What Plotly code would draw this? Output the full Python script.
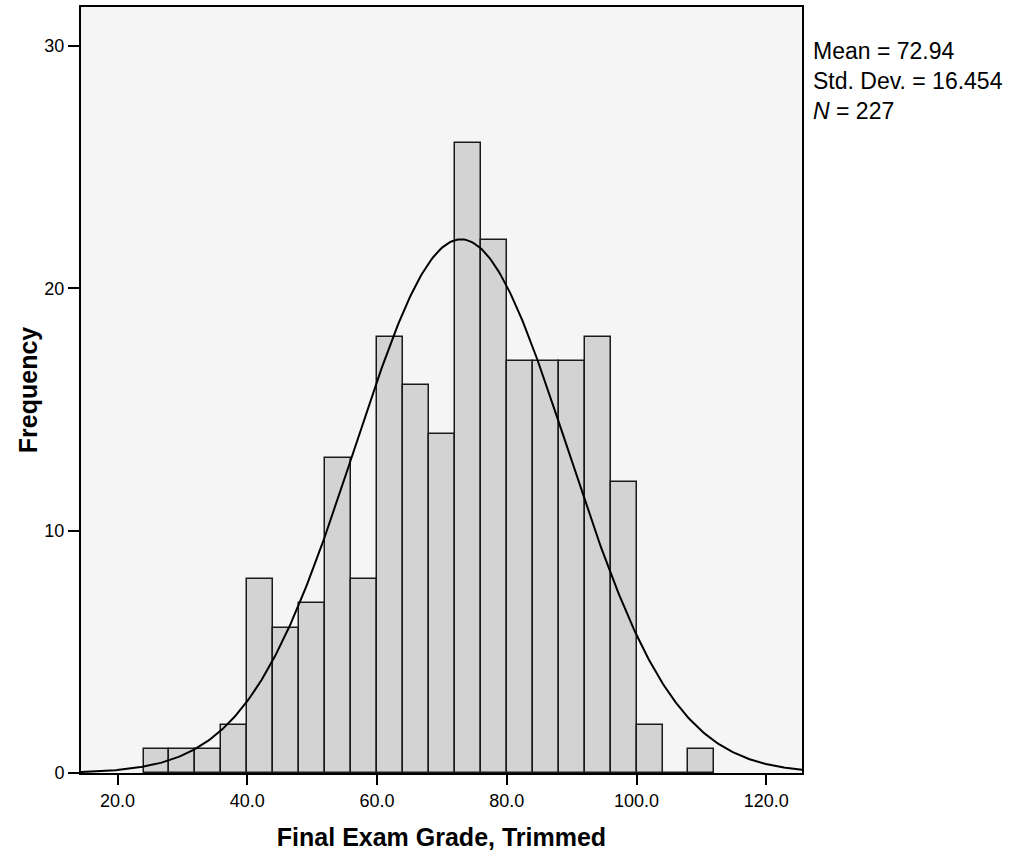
import numpy as np
import plotly.graph_objects as go

# Data
bin_starts = [24, 28, 32, 36, 40, 44, 48, 52, 56, 60, 64, 68, 72, 76, 80, 84, 88, 92, 96, 100, 104, 108]
counts = [1, 1, 1, 2, 8, 6, 7, 13, 8, 18, 16, 14, 26, 22, 17, 17, 17, 18, 12, 2, 0, 1]
bin_width = 4
mean = 72.94
std = 16.454
n = 227
x_ticks = [20, 40, 60, 80, 100, 120]
y_ticks = [0, 10, 20, 30]
x_range = [14.36, 125.5]
y_range = [0, 31.6]

centers = [b + bin_width / 2 for b in bin_starts]

xs = np.linspace(x_range[0], x_range[1], 400)
ys = n * bin_width * np.exp(-0.5 * ((xs - mean) / std) ** 2) / (std * np.sqrt(2 * np.pi))

fig = go.Figure()
fig.add_trace(go.Bar(
    x=centers, y=counts, width=bin_width,
    marker=dict(color="#d3d3d3", line=dict(color="#1a1a1a", width=1.5)),
    hoverinfo="x+y", showlegend=False,
))
fig.add_trace(go.Scatter(
    x=xs, y=ys, mode="lines", line=dict(color="black", width=2),
    showlegend=False, hoverinfo="skip",
))

font_family = "Liberation Sans, Arial, sans-serif"
fig.update_layout(
    width=1026, height=851,
    margin=dict(l=81, r=224, t=7, b=78),
    paper_bgcolor="white",
    plot_bgcolor="#f5f5f5",
    font=dict(family=font_family, size=18, color="black"),
    bargap=0,
    xaxis=dict(
        range=x_range, tickvals=x_ticks, ticktext=[f"{v:.1f}" for v in x_ticks],
        ticks="outside", ticklen=10, tickwidth=2, tickcolor="black",
        showline=True, linecolor="black", linewidth=2, mirror=True,
        showgrid=False, zeroline=False, automargin=False,
        title=dict(text="<b>Final Exam Grade, Trimmed</b>", font=dict(size=25, family=font_family), standoff=19),
        tickfont=dict(size=18),
    ),
    yaxis=dict(
        range=y_range, tickvals=y_ticks,
        ticks="outside", ticklen=11, tickwidth=2, tickcolor="black",
        showline=True, linecolor="black", linewidth=2, mirror=True,
        showgrid=False, zeroline=False, automargin=False,
        title=dict(text="<b>Frequency</b>", font=dict(size=25, family=font_family), standoff=0),
        tickfont=dict(size=18),
    ),
    annotations=[dict(
        xref="paper", yref="paper", x=1.0, y=0.9615, xshift=9,
        xanchor="left", yanchor="top", align="left", showarrow=False,
        text=f"Mean = {mean:.2f}<br>Std. Dev. = {std:.3f}<br><i>N</i> = {n}",
        font=dict(size=23, family=font_family),
    )],
)

fig.write_html("out.html")
